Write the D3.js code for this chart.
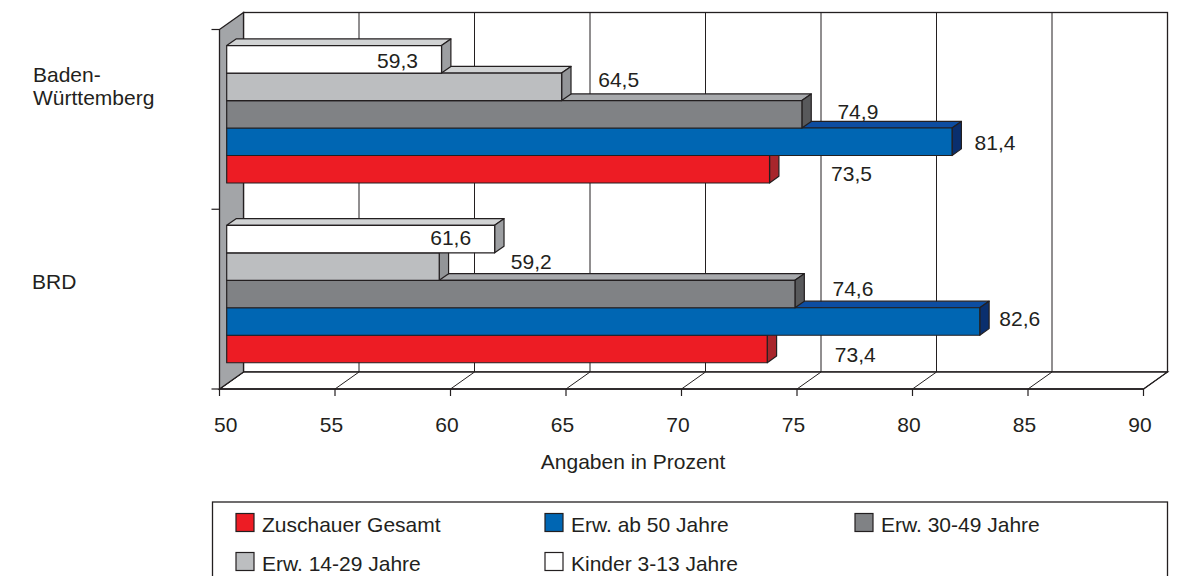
<!DOCTYPE html>
<html>
<head>
<meta charset="utf-8">
<script src="https://cdn.jsdelivr.net/npm/d3@7/dist/d3.min.js"></script>
<style>
  html, body { margin: 0; padding: 0; background: #ffffff; }
  svg { display: block; font-family: "Liberation Sans", Arial, Helvetica, sans-serif; }
</style>
</head>
<body>
<svg id="chart" width="1179" height="576"></svg>
<script>
// ---- data ----
const categories = ["Baden-Württemberg", "BRD"];
const seriesNames = ["Zuschauer Gesamt", "Erw. ab 50 Jahre", "Erw. 30-49 Jahre", "Erw. 14-29 Jahre", "Kinder 3-13 Jahre"];
const zuschauerGesamt = [73.5, 73.4];
const erwAb50 = [81.4, 82.6];
const erw30bis49 = [74.9, 74.6];
const erw14bis29 = [64.5, 59.2];
const kinder3bis13 = [59.3, 61.6];
const xTicks = [50, 55, 60, 65, 70, 75, 80, 85, 90];
const axisTitle = "Angaben in Prozent";

// ---- styles ----
const seriesStyle = [
  { front: "#ED1C24", top: "#F26A6E", side: "#A8262C" },
  { front: "#0066B3", top: "#0D4DA1", side: "#0A2F6E" },
  { front: "#808285", top: "#A7A9AC", side: "#58595B" },
  { front: "#BCBEC0", top: "#D1D3D4", side: "#939598" },
  { front: "#FFFFFF", top: "#D1D3D4", side: "#9D9FA2" }
];
const ink = "#231F20";
// label placement relative to the bar's front end (px): [dx, dy from bar middle to baseline]
const labelNudge = [
  [[82, 12], [43, 8.5], [56, 5], [57, 0.6], [-44, 9]],
  [[88, 13], [40, 4], [58, 2.4], [92, 2.8], [-44, 6]]
];

const seriesValues = [zuschauerGesamt, erwAb50, erw30bis49, erw14bis29, kinder3bis13];

const svg = d3.select("#chart");
const fmt = v => d3.format(".1f")(v).replace(".", ",");

// ---- 3D geometry ----
const DX = 24, DY = 17;             // full depth offset of the plot box
const barZ0 = 0.3, barZ1 = 0.69;    // depth range occupied by the bars
const x = d3.scaleLinear().domain([50, 90]).range([219.5, 1143.5]);
const yCat = d3.scaleBand().domain(categories).range([29.5, 389]);
// bars inside a category, top to bottom: last series on top
const yBar = d3.scaleBand()
  .domain(d3.range(seriesNames.length).reverse())
  .range([0, yCat.bandwidth()])
  .paddingOuter(0.77).paddingInner(0);

const P = (v, y, z) => [x(v) + z * DX, y - z * DY];
const poly = pts => pts.map(p => p.join(",")).join(" ");
const yTop = 29.5, yBottom = 389;

// walls
const g = svg.append("g");
// back wall
g.append("rect")
  .attr("x", x(50) + DX).attr("y", yTop - DY)
  .attr("width", x(90) - x(50)).attr("height", yBottom - yTop)
  .attr("fill", "#fff").attr("stroke", ink).attr("stroke-width", 1.3);
// floor
g.append("polygon")
  .attr("points", poly([P(50, yBottom, 0), P(90, yBottom, 0), P(90, yBottom, 1), P(50, yBottom, 1)]))
  .attr("fill", "#fff").attr("stroke", ink).attr("stroke-width", 1.3);
// grid lines on back wall and floor
xTicks.forEach(t => {
  g.append("line")
    .attr("x1", P(t, yTop, 1)[0]).attr("y1", P(t, yTop, 1)[1])
    .attr("x2", P(t, yBottom, 1)[0]).attr("y2", P(t, yBottom, 1)[1])
    .attr("stroke", ink).attr("stroke-width", 1);
  g.append("line")
    .attr("x1", P(t, yBottom, 1)[0]).attr("y1", P(t, yBottom, 1)[1])
    .attr("x2", P(t, yBottom, 0)[0]).attr("y2", P(t, yBottom, 0)[1])
    .attr("stroke", ink).attr("stroke-width", 1);
});
// side wall
g.append("polygon")
  .attr("points", poly([P(50, yTop, 0), P(50, yTop, 1), P(50, yBottom, 1), P(50, yBottom, 0)]))
  .attr("fill", "#A3A5A8").attr("stroke", ink).attr("stroke-width", 1.3);

// category ticks
[yTop, yCat("BRD"), yBottom].forEach(yy => {
  g.append("line").attr("x1", x(50) - 8).attr("x2", x(50))
    .attr("y1", yy).attr("y2", yy).attr("stroke", ink).attr("stroke-width", 1.2);
});
// value ticks
xTicks.forEach(t => {
  g.append("line").attr("x1", x(t)).attr("x2", x(t))
    .attr("y1", yBottom).attr("y2", yBottom + 7).attr("stroke", ink).attr("stroke-width", 1.2);
});
// front floor edge
g.append("line").attr("x1", x(50)).attr("x2", x(90)).attr("y1", yBottom).attr("y2", yBottom)
  .attr("stroke", ink).attr("stroke-width", 1.5);

// ---- bars ----
const bars = svg.append("g");
categories.forEach((cat, ci) => {
  seriesValues.forEach((vals, si) => {
    const v = vals[ci];
    const y0 = yCat(cat) + yBar(si);
    const y1 = y0 + yBar.bandwidth();
    const st = seriesStyle[si];
    const bg = bars.append("g").attr("stroke", ink).attr("stroke-width", 1.2).attr("stroke-linejoin", "round");
    bg.append("polygon").attr("fill", st.top)
      .attr("points", poly([P(50, y0, barZ0), P(v, y0, barZ0), P(v, y0, barZ1), P(50, y0, barZ1)]));
    bg.append("polygon").attr("fill", st.side)
      .attr("points", poly([P(v, y0, barZ0), P(v, y0, barZ1), P(v, y1, barZ1), P(v, y1, barZ0)]));
    bg.append("polygon").attr("fill", st.front)
      .attr("points", poly([P(50, y0, barZ0), P(v, y0, barZ0), P(v, y1, barZ0), P(50, y1, barZ0)]));
  });
});

// ---- value labels ----
const labels = svg.append("g").attr("font-size", 21).attr("fill", ink).attr("text-anchor", "middle");
categories.forEach((cat, ci) => {
  seriesValues.forEach((vals, si) => {
    const v = vals[ci];
    const ym = yCat(cat) + yBar(si) + yBar.bandwidth() / 2;
    const end = P(v, ym, barZ0);
    const [dx, dy] = labelNudge[ci][si];
    labels.append("text").attr("x", end[0] + dx).attr("y", end[1] + dy).text(fmt(v));
  });
});

// ---- axis labels ----
const axisText = svg.append("g").attr("font-size", 21).attr("fill", ink);
xTicks.forEach(t => {
  const tx = axisText.append("text").attr("text-anchor", "middle")
    .attr("x", x(t) - 3.5).attr("y", 432).text(t);
  const bb = tx.node().getBBox();
  if (bb.x < 214) tx.attr("x", x(t) - 3.5 + (214 - bb.x));
});
axisText.append("text").attr("text-anchor", "middle").attr("x", 633).attr("y", 469).text(axisTitle);

// category labels
axisText.append("text").attr("x", 33).attr("y", 82).text("Baden-");
axisText.append("text").attr("x", 33).attr("y", 105).text("Württemberg");
axisText.append("text").attr("x", 32).attr("y", 289).text("BRD");

// ---- legend ----
const legend = svg.append("g");
legend.append("rect").attr("x", 212.5).attr("y", 502).attr("width", 955).attr("height", 120)
  .attr("fill", "#fff").attr("stroke", ink).attr("stroke-width", 1.3);
const legendCols = [236, 545, 855];
const legendRows = [513.5, 552.5];
seriesNames.forEach((name, i) => {
  const lx = legendCols[i % 3], ly = legendRows[Math.floor(i / 3)];
  legend.append("rect").attr("x", lx).attr("y", ly).attr("width", 18).attr("height", 18)
    .attr("fill", seriesStyle[i].front).attr("stroke", ink).attr("stroke-width", 1.2);
  legend.append("text").attr("x", lx + 26).attr("y", ly + 18)
    .attr("font-size", 21).attr("fill", ink).text(name);
});
</script>
</body>
</html>
